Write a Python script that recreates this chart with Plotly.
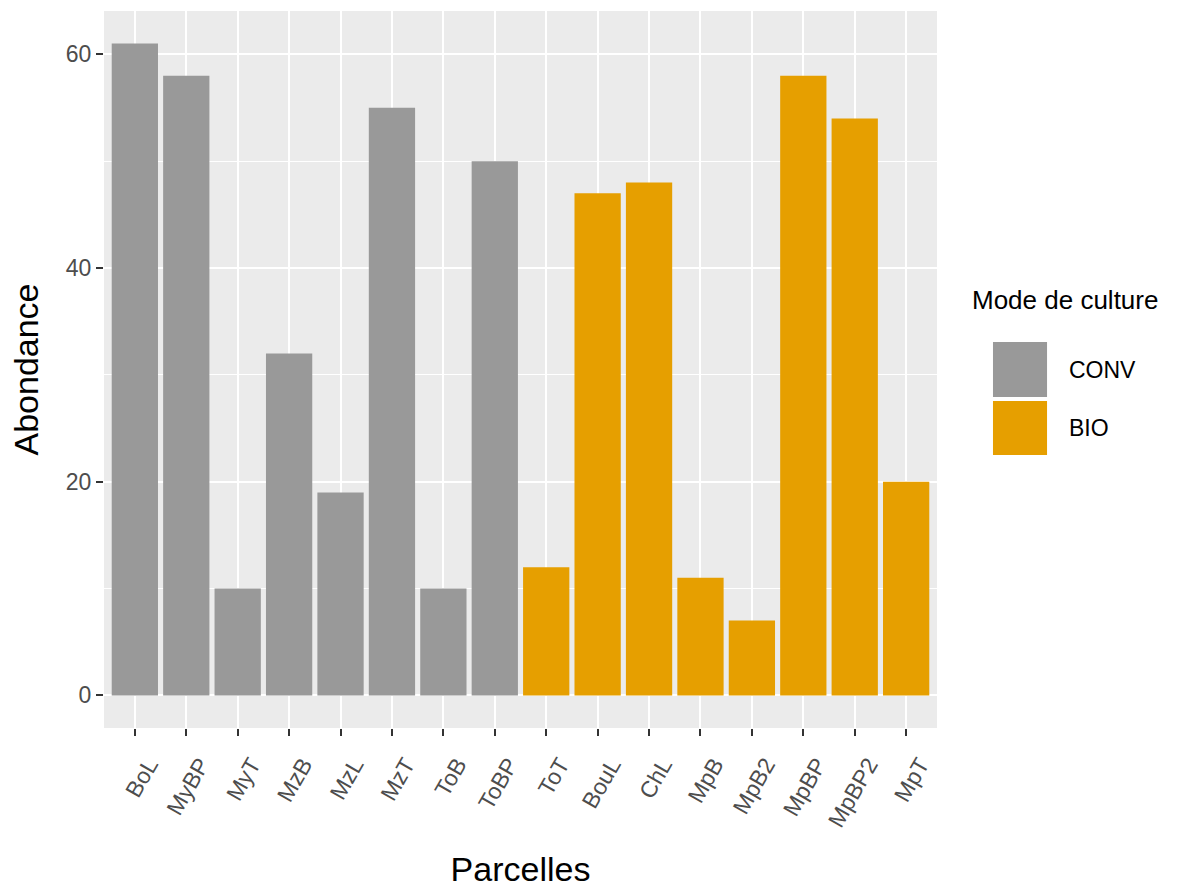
import plotly.graph_objects as go

parcelles = ["BoL", "MyBP", "MyT", "MzB", "MzL", "MzT", "ToB", "ToBP",
             "ToT", "BouL", "ChL", "MpB", "MpB2", "MpBP", "MpBP2", "MpT"]
abondance = [61, 58, 10, 32, 19, 55, 10, 50, 12, 47, 48, 11, 7, 58, 54, 20]
mode = ["CONV"] * 8 + ["BIO"] * 8
groups = ["CONV", "BIO"]
colors = {"CONV": "#999999", "BIO": "#E69F00"}
y_ticks = [0, 20, 40, 60]

FONT = "Liberation Sans, Arial, sans-serif"

fig = go.Figure()
for g in groups:
    xs = [p for p, m in zip(parcelles, mode) if m == g]
    ys = [v for v, m in zip(abondance, mode) if m == g]
    fig.add_trace(go.Bar(x=xs, y=ys, name=g, width=0.9,
                         marker=dict(color=colors[g], line=dict(width=0)),
                         showlegend=False))

# manual ggplot-like legend
fig.add_annotation(text="Mode de culture", xref="paper", yref="paper",
                   x=1.0396, y=0.597, xanchor="left", yanchor="middle",
                   showarrow=False, font=dict(family=FONT, size=26, color="black"))
key_tops = [0.5383, 0.4561]
key_bottoms = [0.4616, 0.3807]
for g, top, bot in zip(groups, key_tops, key_bottoms):
    fig.add_shape(type="rect", xref="paper", yref="paper",
                  x0=1.0672, x1=1.1321, y0=bot, y1=top,
                  fillcolor=colors[g], line=dict(width=0))
    fig.add_annotation(text=g, xref="paper", yref="paper",
                       x=1.1561, y=(top + bot) / 2, xanchor="left", yanchor="middle",
                       showarrow=False, font=dict(family=FONT, size=23, color="black"))

fig.update_layout(
    width=1184, height=890,
    margin=dict(l=104, r=247, t=11, b=162, autoexpand=False),
    paper_bgcolor="white", plot_bgcolor="#EBEBEB",
    font=dict(family=FONT),
    bargap=0.1,
)
fig.update_xaxes(
    type="category", categoryorder="array", categoryarray=parcelles,
    range=[-0.6, len(parcelles) - 0.4],
    showgrid=True, gridcolor="white", gridwidth=1.6,
    ticks="outside", ticklen=7, tickwidth=2, tickcolor="#333333",
    tickangle=-60, tickfont=dict(family=FONT, size=23, color="#4D4D4D"),
    ticklabelshift=14, ticklabelstandoff=6,
    title=dict(text="Parcelles", font=dict(family=FONT, size=34, color="black"), standoff=26),
    zeroline=False, showline=False, automargin=False,
)
fig.update_yaxes(
    range=[-3.05, 64.05], tickvals=y_ticks,
    showgrid=True, gridcolor="white", gridwidth=1.6,
    minor=dict(dtick=10, tick0=0, showgrid=True, gridcolor="white", gridwidth=0.8, ticklen=0),
    ticks="outside", ticklen=7, tickwidth=2, tickcolor="#333333",
    tickfont=dict(family=FONT, size=23, color="#4D4D4D"),
    title=dict(text="Abondance", font=dict(family=FONT, size=34, color="black"), standoff=16),
    zeroline=False, showline=False, automargin=False,
)

fig.write_html("out.html", config={"displayModeBar": False},
               post_script="document.body.style.margin='0px';")
